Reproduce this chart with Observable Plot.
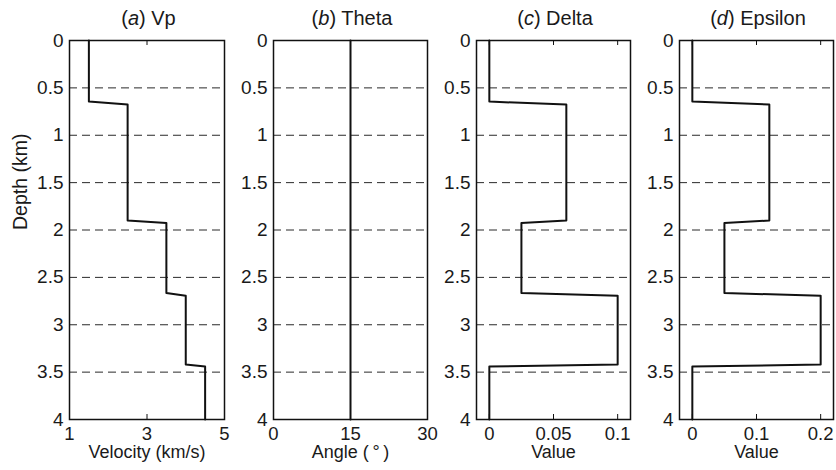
<!DOCTYPE html>
<html>
<head>
<meta charset="utf-8">
<script src="https://cdn.jsdelivr.net/npm/d3@7"></script>
<script src="https://cdn.jsdelivr.net/npm/@observablehq/plot@0.6"></script>
<style>
  html, body { margin: 0; padding: 0; background: #fff; }
  #chart { position: relative; width: 836px; height: 470px; font-family: "Liberation Sans", Arial, Helvetica, sans-serif; color: #1a1a1a; }
  #chart svg { position: absolute; left: 0; top: 0; }
  .ttl { position: absolute; top: 8px; transform: translateX(-50%); font-size: 20px; white-space: nowrap; line-height: 1; }
</style>
</head>
<body>
<div id="chart"></div>
<script>
// Layer boundaries (km): top and bottom of each constant layer
const layerTop    = [0, 0.675, 1.925, 2.695, 3.44];
const layerBottom = [0.645, 1.9, 2.665, 3.42, 4];
// Layer values
const vp      = [1.5, 2.5, 3.5, 4.0, 4.5];
const theta   = [15, 15, 15, 15, 15];
const delta   = [0, 0.06, 0.025, 0.1, 0];
const epsilon = [0, 0.12, 0.05, 0.2, 0];

const depthTicks = [0, 0.5, 1, 1.5, 2, 2.5, 3, 3.5, 4];
const gridDepths = [0.5, 1, 1.5, 2, 2.5, 3, 3.5];

const panelTitles = [["a", "Vp"], ["b", "Theta"], ["c", "Delta"], ["d", "Epsilon"]];
const xLabels = ["Velocity (km/s)", "Angle (\u2009°\u2009)", "Value", "Value"];
const xTickSets = [[1, 3, 5], [0, 15, 30], [0, 0.05, 0.1], [0, 0.1, 0.2]];
const xDomains = [[1, 5], [0, 30], [-0.01, 0.11], [-0.02, 0.22]];
const series = [vp, theta, delta, epsilon];

// panel pixel layout [left, right]
const frames = [[69, 224], [273, 427], [476, 630], [679, 833]];

const W = 836, H = 470, MT = 40, MB = 51;
const innerH = H - MT - MB;
const font = "'Liberation Sans', Arial, Helvetica, sans-serif";
const fmt = d3.format("~g");
const chart = document.getElementById("chart");

function profile(vals) {
  const pts = [];
  vals.forEach((v, i) => {
    pts.push({x: v, y: layerTop[i]});
    pts.push({x: v, y: layerBottom[i]});
  });
  return pts;
}

series.forEach((vals, k) => {
  const [L, R] = frames[k];
  const marks = [
    Plot.ruleY(gridDepths, {stroke: "#2a2a2a", strokeWidth: 1, strokeDasharray: "8,5"}),
    Plot.axisY({ticks: depthTicks, tickFormat: fmt, tickSize: 0, tickPadding: 6, label: null, fontSize: 19}),
    Plot.axisX({anchor: "bottom", ticks: xTickSets[k], tickFormat: fmt, tickSize: 0, tickPadding: 7, label: null, fontSize: 18.5}),
    Plot.tickX(xTickSets[k], {x: d => d, insetBottom: innerH - 5, stroke: "#111"}),
    Plot.tickX(xTickSets[k], {x: d => d, insetTop: innerH - 5, stroke: "#111"}),
    Plot.line(profile(vals), {x: "x", y: "y", stroke: "#111", strokeWidth: 2}),
    Plot.frame({stroke: "#111", strokeWidth: 1.5}),
    Plot.text([xLabels[k]], {frameAnchor: "bottom", dy: 38.5, fontSize: 18, fill: "#1a1a1a"})
  ];
  if (k === 0) {
    marks.push(Plot.text(["Depth (km)"], {frameAnchor: "left", dx: -49, rotate: -90, fontSize: 19.5, fill: "#1a1a1a"}));
  }
  const svg = Plot.plot({
    width: W, height: H,
    marginTop: MT, marginBottom: MB, marginLeft: L, marginRight: W - R,
    style: {background: "transparent", fontFamily: font, fontSize: "19px", color: "#1a1a1a", overflow: "visible"},
    x: {domain: xDomains[k]},
    y: {domain: [0, 4], reverse: true},
    marks
  });
  chart.appendChild(svg);

  const t = document.createElement("div");
  t.className = "ttl";
  t.style.left = ((L + R) / 2 + 2) + "px";
  t.innerHTML = `(<i>${panelTitles[k][0]}</i>) ${panelTitles[k][1]}`;
  chart.appendChild(t);
});
</script>
</body>
</html>
